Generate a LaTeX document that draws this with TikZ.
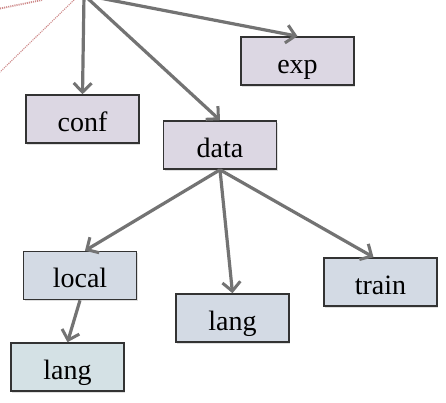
\documentclass[tikz,border=0pt]{standalone}
\usepackage{fontspec}
\setmainfont{Liberation Serif}
\usetikzlibrary{arrows.meta,shadows}
\definecolor{boxline}{HTML}{333333}
\definecolor{arrowgray}{HTML}{737373}
\definecolor{toplevel}{HTML}{DCD7E3}
\definecolor{midlevel}{HTML}{D3DAE4}
\definecolor{lowlevel}{HTML}{D4E1E5}
\definecolor{reddot}{HTML}{CF8A8A}
\begin{document}
\begin{tikzpicture}[x=1pt,y=-1pt,
  box/.style={draw=boxline,line width=1.6pt,minimum width=113pt,minimum height=48pt,
    inner sep=0pt,text height=24pt,text depth=0pt,font=\fontsize{28}{30}\selectfont,
    drop shadow={shadow xshift=1pt,shadow yshift=-1.5pt,opacity=0.25}},
  topbox/.style={box,fill=toplevel},
  midbox/.style={box,fill=midlevel},
  lowbox/.style={box,fill=lowlevel},
  conn/.style={draw=arrowgray,line width=3.2pt,
    -{Straight Barb[length=9pt,width=18pt,line width=3pt]}},
  faint/.style={draw=reddot,line width=1.1pt,densely dotted}
]
\useasboundingbox (0,0) rectangle (446,402);
\clip (0,0) rectangle (446,402);
\fill[white] (0,0) rectangle (446,402);

\coordinate (root) at (84,-5);
\coordinate (fa1) at (74,0);
\coordinate (fa2) at (0,72);
\coordinate (fb1) at (0,8.5);
\coordinate (fb2) at (42,0);
\draw[faint] (fa1) -- (fa2);
\draw[faint,line width=1.8pt] (fb1) -- (fb2);

\node[topbox] (conf) at (82.5,119) {conf};
\node[topbox] (exp) at (297.5,61) {exp};
\node[topbox] (data) at (220,145) {data};
\node[midbox] (local) at (80,275.5) {local};
\node[midbox] (lang2) at (232.5,318) {lang};
\node[midbox] (train) at (380.5,282) {train};
\node[lowbox] (lang1) at (67.5,367) {lang};

\draw[conn] (root) -- (conf.north);
\draw[conn] (root) -- (data.north);
\draw[conn] (root) -- (exp.north);
\draw[conn] (data.south) -- ([xshift=5pt]local.north);
\draw[conn] (data.south) -- (lang2.north);
\draw[conn] (data.south) -- ([xshift=-7pt]train.north);
\draw[conn] (local.south) -- (lang1.north);
\end{tikzpicture}
\end{document}
